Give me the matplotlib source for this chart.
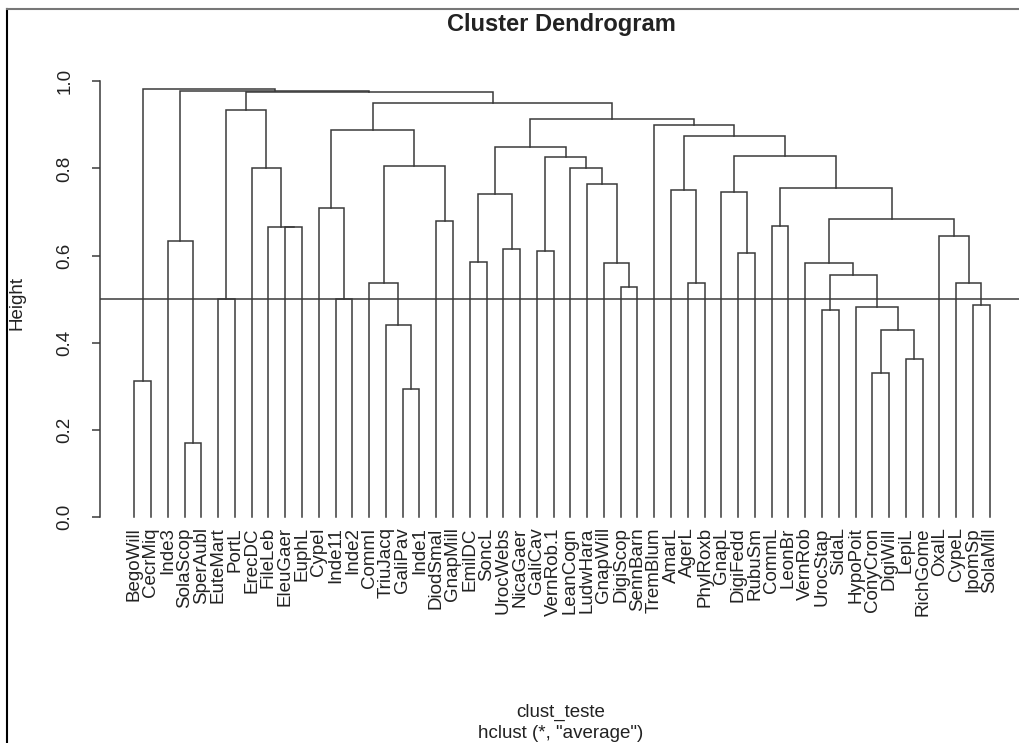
import matplotlib
matplotlib.use("Agg")
import matplotlib.pyplot as plt
from matplotlib.lines import Line2D

plt.rcParams['font.family'] = ['Liberation Sans', 'DejaVu Sans']

# Leaf labels in display order
labels = ["BegoWill", "CecrMiq", "Inde3", "SolaScop", "SperAubl", "EuteMart", "PortL",
          "ErecDC", "FileLeb", "EleuGaer", "EuphL", "CypeI", "Inde11", "Inde2", "CommI",
          "TriuJacq", "GaliPav", "Inde1", "DiodSmal", "GnapMill", "EmilDC", "SoncL",
          "UrocWebs", "NicaGaer", "GaliCav", "VernRob.1", "LeanCogn", "LudwHara",
          "GnapWill", "DigiScop", "SennBarn", "TremBlum", "AmarL", "AgerL", "PhylRoxb",
          "GnapL", "DigiFedd", "RubuSm", "CommL", "LeonBr", "VernRob", "UrocStap",
          "SidaL", "HypoPoit", "ConyCron", "DigiWill", "LepiL", "RichGome", "OxalL",
          "CypeL", "IpomSp", "SolaMill"]

# Merge table (R hclust style): negative = leaf number, positive = earlier merge number
merge_left = [-1, -4, -3, -6, -10, -9, -8, 4, -13, -12, -17, -16, -15, -19, 13, 10,
              -21, -23, 17, -25, -30, -29, -28, -27, 20, 19, -34, -33, -37, -36, -39,
              -42, -45, -47, 33, -44, 32, -41, -51, -50, -49, 38, 31, 30, 28, -32, 26,
              16, 8, 3, 1]
merge_right = [-2, -5, 2, -7, -11, 5, 6, 7, -14, 9, -18, 11, 12, -20, 14, 15,
               -22, -24, 18, -26, -31, 21, 22, 23, 24, 25, -35, 27, -38, 29, -40,
               -43, -46, -48, 34, 35, 36, 37, -52, 39, 40, 41, 42, 43, 44, 45, 46,
               47, 48, 49, 50]
merge_height = [0.312, 0.170, 0.633, 0.500, 0.665, 0.666, 0.800, 0.934, 0.500, 0.709,
                0.293, 0.440, 0.537, 0.679, 0.805, 0.888, 0.585, 0.615, 0.741, 0.611,
                0.528, 0.583, 0.764, 0.800, 0.826, 0.849, 0.537, 0.750, 0.606, 0.746,
                0.667, 0.476, 0.330, 0.362, 0.430, 0.482, 0.555, 0.582, 0.486, 0.536,
                0.644, 0.683, 0.754, 0.828, 0.874, 0.899, 0.913, 0.949, 0.975, 0.978,
                0.982]
cut_height = 0.5
yticks = [0.0, 0.2, 0.4, 0.6, 0.8, 1.0]

W, H = 1020, 743
fig = plt.figure(figsize=(W / 100, H / 100), dpi=100)
fig.patch.set_facecolor('white')

# plot region (R style, extends slightly past the right edge of the picture)
x0, x1 = 100, 1024
y0, y1 = 72, 534
ax = fig.add_axes([x0 / W, 1 - y1 / H, (x1 - x0) / W, (y1 - y0) / H])
n = len(labels)
ax.set_xlim(1 - 0.04 * (n - 1), n + 0.04 * (n - 1))
top = max(merge_height)
ax.set_ylim(-0.04 * top, top * 1.04)

lc = '#3a3a3a'
lw = 1.1
mx, mh = {}, {}


def node(ref):
    if ref < 0:
        return float(-ref), 0.0
    return mx[ref], mh[ref]


for k in range(len(merge_height)):
    xa, ha = node(merge_left[k])
    xb, hb = node(merge_right[k])
    h = merge_height[k]
    ax.plot([xa, xa, xb, xb], [ha, h, h, hb], color=lc, lw=lw,
            solid_joinstyle='miter', clip_on=False)
    mx[k + 1] = (xa + xb) / 2
    mh[k + 1] = h

ax.axhline(cut_height, color=lc, lw=lw)

for i, lab in enumerate(labels):
    ax.text(i + 1, -0.024, lab, rotation=90, ha='center', va='top',
            fontsize=13.5, color='#222222')

for s in ['top', 'right', 'bottom']:
    ax.spines[s].set_visible(False)
ax.spines['left'].set_bounds(0, 1.0)
ax.spines['left'].set_color(lc)
ax.spines['left'].set_linewidth(lw)
ax.set_xticks([])
ax.set_yticks(yticks)
ax.set_yticklabels([f"{v:.1f}" for v in yticks], rotation=90, va='center',
                   fontsize=13.5, color='#222222')
ax.tick_params(axis='y', length=6, width=lw, color=lc, pad=13)

fig.text(561 / W, 1 - 25 / H, "Cluster Dendrogram", ha='center', va='center',
         fontsize=17, fontweight='bold', color='#222222')
fig.text(17 / W, 1 - 303 / H, "Height", rotation=90, ha='center', va='center',
         fontsize=13.5, color='#222222')
fig.text(561 / W, 1 - 712 / H, "clust_teste", ha='center', va='center',
         fontsize=13.5, color='#222222')
fig.text(561 / W, 1 - 733 / H, 'hclust (*, "average")', ha='center', va='center',
         fontsize=13.5, color='#222222')

# screenshot frame on left and top
fig.add_artist(Line2D([7.5 / W, 7.5 / W], [0, 1 - 9 / H], transform=fig.transFigure,
                      color='black', lw=1.5))
fig.add_artist(Line2D([7.5 / W, 1], [1 - 9 / H, 1 - 9 / H], transform=fig.transFigure,
                      color='#777777', lw=1.5))

fig.savefig("out.png", dpi=100)
